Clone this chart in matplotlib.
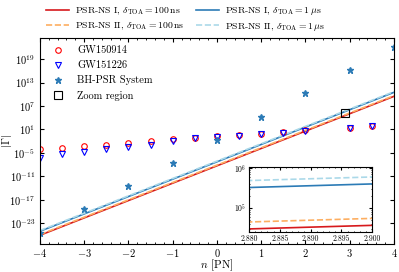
import numpy as np
import matplotlib
matplotlib.use('Agg')
import matplotlib.pyplot as plt
from matplotlib.ticker import FixedLocator, MultipleLocator, NullLocator, LogLocator, FormatStrFormatter

plt.rcParams['font.family'] = 'cmr10'
plt.rcParams['mathtext.fontset'] = 'cm'
plt.rcParams['axes.formatter.use_mathtext'] = True
plt.rcParams['axes.unicode_minus'] = True

# PSR-NS bounds, straight lines in log space (end points)
n_line = [-4, 4]
psrns1_100ns = [7.9e-27, 2.9e9]
psrns2_100ns = [1.2e-26, 4.3e9]
psrns1_1us = [8.3e-26, 3.1e10]
psrns2_1us = [1.26e-25, 4.6e10]

# GW events
n_gw = [-4, -3.5, -3, -2.5, -2, -1.5, -1, -0.5, 0, 0.5, 1, 1.5, 2, 3, 3.5]
gw150914 = [8.9e-5, 2.0e-4, 5.0e-4, 1.3e-3, 4.0e-3, 1.0e-2, 3.2e-2, 7.9e-2,
            0.2, 0.35, 0.8, 2.0, 6.3, 25, 63]
gw151226 = [6.3e-7, 4.0e-6, 1.6e-5, 7.9e-5, 3.2e-4, 1.3e-3, 1.0e-2, 6.3e-2,
            0.13, 0.25, 0.63, 1.3, 5.0, 20, 63]

# BH-PSR system
n_bh = [-4, -3, -2, -1, 0, 1, 2, 3, 4]
bh_psr = [4e-26, 3.2e-20, 3.2e-14, 2.5e-8, 2.5e-2, 1.6e4, 1.6e10, 1.3e16, 1e22]

zoom_n = [2.89]
zoom_g = [1.5e5]

c_red, c_orange, c_blue, c_lblue = '#d7191c', '#fdae61', '#2c7bb6', '#abd9e9'

fig = plt.figure(figsize=(3.99, 2.72), dpi=100)
ax = fig.add_axes([0.1, 0.102, 0.8875, 0.757])


def draw_lines(a):
    l1, = a.plot(n_line, psrns1_100ns, color=c_red, lw=1.2,
                 label=r'PSR-NS I, $\delta_{\rm TOA} = 100\,{\rm ns}$')
    l2, = a.plot(n_line, psrns2_100ns, color=c_orange, lw=1.2, ls='--',
                 label=r'PSR-NS II, $\delta_{\rm TOA} = 100\,{\rm ns}$')
    l3, = a.plot(n_line, psrns1_1us, color=c_blue, lw=1.2,
                 label=r'PSR-NS I, $\delta_{\rm TOA} = 1\,\mu{\rm s}$')
    l4, = a.plot(n_line, psrns2_1us, color=c_lblue, lw=1.2, ls='--',
                 label=r'PSR-NS II, $\delta_{\rm TOA} = 1\,\mu{\rm s}$')
    return [l1, l2, l3, l4]


lines = draw_lines(ax)
m1, = ax.plot(n_gw, gw150914, 'o', mfc='none', mec='red', ms=4, mew=0.8, label='GW150914')
m2, = ax.plot(n_gw, gw151226, 'v', mfc='none', mec='blue', ms=4, mew=0.8, label='GW151226')
m3, = ax.plot(n_bh, bh_psr, '*', color=c_blue, ms=4.5, ls='none', label='BH-PSR System')
m4, = ax.plot(zoom_n, zoom_g, 's', mfc='none', mec='k', ms=5.5, mew=0.8, label='Zoom region')

ax.set_yscale('log')
ax.set_xlim(-4, 4)
ax.set_ylim(10**-28.4, 10**24.3)
ax.yaxis.set_major_locator(FixedLocator([10.0**k for k in range(-23, 20, 6)]))
ax.yaxis.set_minor_locator(NullLocator())
ax.xaxis.set_major_locator(MultipleLocator(1))
ax.xaxis.set_minor_locator(MultipleLocator(0.2))
ax.tick_params(which='both', direction='in', top=True, right=True, labelsize=7.5)
ax.tick_params(axis='x', pad=2)
ax.tick_params(which='major', length=3)
ax.tick_params(which='minor', length=1.5)
ax.set_xlabel(r'$n$ [PN]', fontsize=8, labelpad=-1)
ax.set_ylabel(r'$|\Gamma|$', fontsize=8)
ax.yaxis.set_label_coords(-0.073, 0.5)

fig.legend(handles=lines, loc='upper center', bbox_to_anchor=(0.465, 1.01), ncol=2,
           frameon=False, fontsize=7.0, handlelength=2.45, handletextpad=0.62,
           columnspacing=1.1, labelspacing=0.38, borderpad=0.3)
ax.legend(handles=[m1, m2, m3, m4], loc='upper left', frameon=False, fontsize=7.5,
          handlelength=2.0, handletextpad=0.83, labelspacing=0.5,
          borderaxespad=0.33, borderpad=0.4)

# inset
axin = fig.add_axes([0.624, 0.146, 0.309, 0.24])
draw_lines(axin)
axin.set_yscale('log')
axin.set_xlim(2.88, 2.90)
axin.set_ylim(10**4.4, 10**6.02)
axin.xaxis.set_major_locator(FixedLocator([2.880, 2.885, 2.890, 2.895, 2.900]))
axin.xaxis.set_major_formatter(FormatStrFormatter('%.3f'))
axin.xaxis.set_minor_locator(MultipleLocator(0.001))
axin.yaxis.set_major_locator(LogLocator(base=10))
axin.yaxis.set_minor_locator(LogLocator(base=10, subs=np.arange(2, 10)))
axin.yaxis.set_minor_formatter(plt.NullFormatter())
axin.tick_params(which='both', direction='in', top=True, right=True, labelsize=5.5, pad=2)
axin.tick_params(which='major', length=2)
axin.tick_params(which='minor', length=1)

fig.savefig('out.png', dpi=100)
